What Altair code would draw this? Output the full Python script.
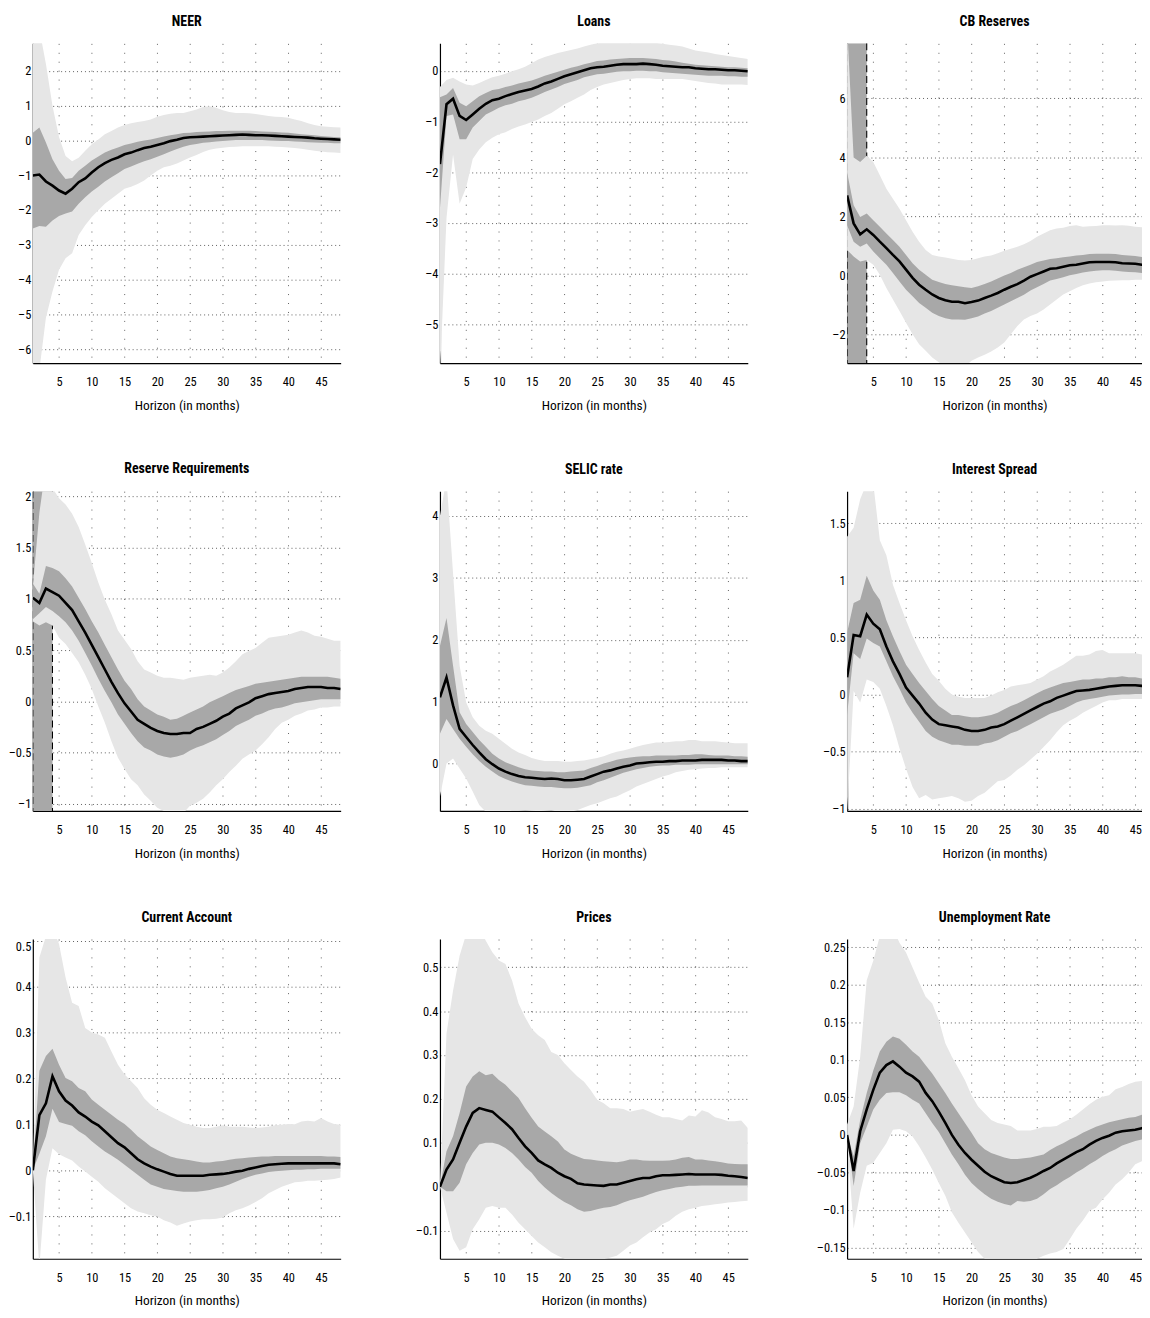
import altair as alt
import pandas as pd

H = list(range(1, 49))

# ---------------- NEER ----------------
NEER_MID = [-1.01, -0.98, -1.18, -1.30, -1.44, -1.53, -1.39, -1.20, -1.09, -0.92, -0.77, -0.65, -0.56, -0.49, -0.40, -0.35,
            -0.28, -0.22, -0.18, -0.13, -0.08, -0.02, 0.02, 0.07, 0.09, 0.10, 0.11, 0.12, 0.13, 0.14, 0.15, 0.16,
            0.17, 0.16, 0.15, 0.15, 0.14, 0.13, 0.12, 0.11, 0.10, 0.09, 0.08, 0.06, 0.05, 0.04, 0.03, 0.02]
NEER_IN_HI = [0.22, 0.37, -0.06, -0.54, -0.87, -1.11, -1.08, -0.87, -0.73, -0.58, -0.46, -0.35, -0.27, -0.20, -0.13, -0.09,
              -0.04, 0.0, 0.03, 0.07, 0.11, 0.15, 0.18, 0.21, 0.22, 0.24, 0.25, 0.26, 0.27, 0.27, 0.28, 0.28,
              0.28, 0.28, 0.27, 0.26, 0.25, 0.24, 0.23, 0.22, 0.20, 0.18, 0.16, 0.15, 0.13, 0.11, 0.10, 0.09]
NEER_IN_LO = [-2.53, -2.46, -2.48, -2.30, -2.17, -2.10, -2.04, -1.82, -1.63, -1.47, -1.33, -1.18, -1.06, -0.94, -0.82, -0.75,
              -0.67, -0.60, -0.54, -0.47, -0.40, -0.32, -0.25, -0.18, -0.13, -0.10, -0.07, -0.05, -0.03, -0.02, 0.0, 0.01,
              0.01, 0.01, 0.01, 0.01, 0.0, -0.01, -0.02, -0.02, -0.03, -0.04, -0.05, -0.06, -0.07, -0.07, -0.08, -0.08]
NEER_OUT_HI = [4.0, 3.2, 2.2, 1.0, 0.1, -0.45, -0.60, -0.50, -0.30, -0.11, 0.03, 0.18, 0.27, 0.37, 0.44, 0.49,
               0.53, 0.56, 0.60, 0.68, 0.73, 0.77, 0.79, 0.79, 0.84, 0.89, 0.96, 0.98, 0.94, 0.87, 0.82, 0.79,
               0.79, 0.78, 0.76, 0.73, 0.70, 0.68, 0.67, 0.65, 0.60, 0.56, 0.49, 0.44, 0.41, 0.39, 0.38, 0.37]
NEER_OUT_LO = [-7.0, -6.6, -5.1, -4.34, -3.72, -3.39, -3.24, -2.72, -2.44, -2.20, -2.01, -1.82, -1.68, -1.53, -1.39, -1.33,
               -1.25, -1.15, -1.01, -0.87, -0.77, -0.73, -0.66, -0.58, -0.49, -0.42, -0.33, -0.27, -0.23, -0.21, -0.19, -0.18,
               -0.17, -0.17, -0.17, -0.17, -0.17, -0.18, -0.19, -0.20, -0.22, -0.24, -0.27, -0.30, -0.32, -0.34, -0.35, -0.36]

# ---------------- Loans ----------------
LOANS_MID = [-1.84, -0.66, -0.55, -0.89, -0.97, -0.86, -0.75, -0.65, -0.58, -0.55, -0.50, -0.46, -0.42, -0.39, -0.36, -0.31,
             -0.25, -0.21, -0.16, -0.11, -0.07, -0.03, 0.01, 0.05, 0.07, 0.08, 0.10, 0.12, 0.13, 0.13, 0.13, 0.14,
             0.13, 0.12, 0.10, 0.09, 0.08, 0.07, 0.07, 0.05, 0.04, 0.03, 0.03, 0.02, 0.01, 0.01, 0.0, -0.01]
LOANS_IN_HI = [-0.52, -0.47, -0.34, -0.63, -0.70, -0.60, -0.50, -0.44, -0.38, -0.36, -0.32, -0.29, -0.25, -0.22, -0.19, -0.15,
               -0.10, -0.06, -0.02, 0.02, 0.06, 0.09, 0.13, 0.16, 0.19, 0.20, 0.22, 0.23, 0.24, 0.25, 0.25, 0.25,
               0.24, 0.23, 0.21, 0.20, 0.18, 0.16, 0.14, 0.12, 0.11, 0.10, 0.09, 0.08, 0.07, 0.07, 0.06, 0.05]
LOANS_IN_LO = [-2.72, -0.89, -0.86, -1.35, -1.35, -1.12, -0.99, -0.86, -0.80, -0.73, -0.68, -0.65, -0.60, -0.57, -0.53, -0.48,
               -0.42, -0.37, -0.32, -0.26, -0.22, -0.18, -0.13, -0.10, -0.07, -0.06, -0.04, -0.02, -0.01, -0.01, 0.0, 0.0,
               -0.01, -0.01, -0.03, -0.04, -0.05, -0.06, -0.07, -0.08, -0.09, -0.10, -0.10, -0.10, -0.11, -0.11, -0.12, -0.12]
LOANS_OUT_HI = [-0.32, -0.18, -0.14, -0.21, -0.27, -0.29, -0.24, -0.18, -0.13, -0.10, -0.06, -0.01, 0.03, 0.08, 0.15, 0.22,
                0.27, 0.31, 0.35, 0.38, 0.41, 0.44, 0.48, 0.51, 0.54, 0.56, 0.57, 0.57, 0.57, 0.57, 0.57, 0.56,
                0.56, 0.55, 0.53, 0.51, 0.50, 0.48, 0.44, 0.40, 0.38, 0.36, 0.33, 0.31, 0.29, 0.27, 0.25, 0.23]
LOANS_OUT_LO = [-6.0, -2.9, -1.65, -2.62, -2.30, -1.74, -1.55, -1.41, -1.32, -1.25, -1.21, -1.15, -1.10, -1.06, -1.01, -0.96,
                -0.89, -0.83, -0.75, -0.66, -0.60, -0.53, -0.47, -0.38, -0.32, -0.27, -0.24, -0.21, -0.18, -0.16, -0.15, -0.15,
                -0.15, -0.16, -0.16, -0.16, -0.16, -0.16, -0.18, -0.20, -0.22, -0.24, -0.25, -0.27, -0.27, -0.27, -0.27, -0.28]

# ---------------- CB Reserves ----------------
CBR_MID = [2.71, 1.76, 1.39, 1.56, 1.37, 1.14, 0.92, 0.69, 0.47, 0.19, -0.09, -0.32, -0.49, -0.65, -0.77, -0.85,
           -0.90, -0.90, -0.95, -0.91, -0.86, -0.77, -0.69, -0.60, -0.49, -0.39, -0.30, -0.18, -0.05, 0.04, 0.13, 0.22,
           0.24, 0.29, 0.34, 0.36, 0.40, 0.44, 0.45, 0.45, 0.45, 0.44, 0.41, 0.40, 0.39, 0.36, 0.34, 0.33]
CBR_IN_HI = [3.50, 2.38, 1.98, 2.10, 1.87, 1.65, 1.42, 1.20, 0.97, 0.69, 0.41, 0.19, 0.02, -0.15, -0.23, -0.30,
             -0.34, -0.37, -0.41, -0.43, -0.37, -0.30, -0.21, -0.11, -0.01, 0.08, 0.19, 0.27, 0.36, 0.45, 0.50, 0.55,
             0.58, 0.61, 0.64, 0.67, 0.69, 0.72, 0.73, 0.73, 0.73, 0.72, 0.69, 0.67, 0.65, 0.62, 0.60, 0.59]
CBR_IN_LO = [1.70, 1.14, 0.97, 1.08, 0.81, 0.58, 0.36, 0.08, -0.21, -0.49, -0.71, -0.94, -1.10, -1.27, -1.38, -1.46,
             -1.50, -1.50, -1.51, -1.46, -1.40, -1.30, -1.21, -1.10, -0.99, -0.88, -0.77, -0.66, -0.52, -0.41, -0.30, -0.18,
             -0.13, -0.07, 0.0, 0.04, 0.09, 0.13, 0.15, 0.17, 0.17, 0.15, 0.13, 0.11, 0.10, 0.08, 0.05, 0.04]
CBR_OUT_HI = [8.5, 4.0, 3.84, 4.06, 3.84, 3.39, 2.94, 2.60, 2.26, 1.87, 1.48, 1.14, 0.86, 0.69, 0.64, 0.60,
              0.56, 0.52, 0.50, 0.52, 0.58, 0.64, 0.67, 0.75, 0.83, 0.90, 0.97, 1.05, 1.16, 1.31, 1.42, 1.53,
              1.59, 1.61, 1.67, 1.70, 1.65, 1.66, 1.67, 1.70, 1.70, 1.69, 1.70, 1.68, 1.65, 1.63, 1.61, 1.59]
CBR_OUT_LO = [0.86, 0.64, 0.47, 0.52, 0.36, 0.02, -0.43, -0.82, -1.21, -1.61, -2.00, -2.34, -2.56, -2.79, -2.95, -3.10,
              -3.15, -3.15, -3.10, -2.90, -2.79, -2.70, -2.59, -2.45, -2.28, -2.00, -1.72, -1.50, -1.38, -1.30, -1.16, -0.99,
              -0.82, -0.65, -0.54, -0.43, -0.34, -0.28, -0.24, -0.21, -0.19, -0.18, -0.17, -0.17, -0.15, -0.15, -0.15, -0.15]

# ---------------- Reserve Requirements ----------------
RR_MID = [1.01, 0.96, 1.10, 1.065, 1.03, 0.96, 0.89, 0.78, 0.67, 0.55, 0.43, 0.31, 0.19, 0.08, -0.02, -0.10,
          -0.18, -0.22, -0.26, -0.29, -0.31, -0.32, -0.32, -0.31, -0.31, -0.27, -0.25, -0.22, -0.19, -0.15, -0.12, -0.07,
          -0.04, -0.01, 0.03, 0.05, 0.07, 0.08, 0.09, 0.10, 0.12, 0.13, 0.14, 0.14, 0.14, 0.13, 0.13, 0.12]
RR_IN_HI = [1.15, 1.05, 1.32, 1.30, 1.27, 1.20, 1.12, 1.01, 0.90, 0.78, 0.67, 0.55, 0.43, 0.31, 0.20, 0.12,
            0.02, -0.05, -0.09, -0.13, -0.15, -0.18, -0.17, -0.14, -0.11, -0.08, -0.05, -0.01, 0.02, 0.05, 0.08, 0.11,
            0.13, 0.15, 0.17, 0.18, 0.19, 0.20, 0.21, 0.22, 0.23, 0.24, 0.24, 0.24, 0.24, 0.24, 0.23, 0.22]
RR_IN_LO = [0.80, 0.86, 0.92, 0.88, 0.83, 0.77, 0.69, 0.59, 0.47, 0.35, 0.22, 0.10, -0.01, -0.13, -0.22, -0.31,
            -0.39, -0.45, -0.48, -0.52, -0.54, -0.55, -0.54, -0.52, -0.48, -0.45, -0.43, -0.40, -0.37, -0.33, -0.29, -0.24,
            -0.21, -0.18, -0.14, -0.12, -0.09, -0.07, -0.06, -0.04, -0.02, -0.01, 0.0, 0.01, 0.02, 0.02, 0.02, 0.02]
RR_OUT_HI = [1.12, 1.84, 2.30, 2.08, 1.98, 1.92, 1.83, 1.70, 1.53, 1.35, 1.16, 0.99, 0.85, 0.69, 0.60, 0.51,
             0.39, 0.31, 0.28, 0.25, 0.23, 0.23, 0.22, 0.21, 0.23, 0.24, 0.25, 0.26, 0.25, 0.28, 0.33, 0.39,
             0.46, 0.49, 0.52, 0.57, 0.62, 0.63, 0.64, 0.65, 0.67, 0.69, 0.67, 0.64, 0.63, 0.61, 0.59, 0.59]
RR_OUT_LO = [0.78, 0.74, 0.77, 0.74, 0.62, 0.56, 0.47, 0.38, 0.26, 0.12, -0.05, -0.21, -0.39, -0.55, -0.66, -0.76,
             -0.82, -0.91, -0.97, -1.04, -1.07, -1.09, -1.09, -1.09, -1.02, -0.99, -0.95, -0.89, -0.82, -0.76, -0.69, -0.63,
             -0.56, -0.52, -0.48, -0.42, -0.35, -0.27, -0.21, -0.18, -0.14, -0.12, -0.09, -0.08, -0.06, -0.06, -0.05, -0.05]

# ---------------- SELIC rate ----------------
SELIC_MID = [1.07, 1.39, 0.94, 0.56, 0.43, 0.30, 0.18, 0.07, -0.01, -0.08, -0.13, -0.17, -0.20, -0.22, -0.23, -0.24,
             -0.25, -0.24, -0.25, -0.27, -0.27, -0.26, -0.25, -0.21, -0.17, -0.13, -0.11, -0.08, -0.05, -0.03, 0.0, 0.01,
             0.02, 0.03, 0.03, 0.04, 0.04, 0.05, 0.05, 0.05, 0.06, 0.06, 0.06, 0.06, 0.05, 0.05, 0.04, 0.04]
SELIC_IN_HI = [1.90, 2.35, 1.58, 0.83, 0.64, 0.51, 0.38, 0.27, 0.16, 0.08, 0.02, -0.02, -0.06, -0.09, -0.11, -0.12,
               -0.13, -0.13, -0.14, -0.14, -0.13, -0.12, -0.11, -0.07, -0.04, 0.0, 0.03, 0.06, 0.08, 0.10, 0.11, 0.12,
               0.12, 0.13, 0.13, 0.13, 0.13, 0.14, 0.14, 0.15, 0.15, 0.14, 0.13, 0.13, 0.13, 0.12, 0.12, 0.11]
SELIC_IN_LO = [0.48, 0.72, 0.56, 0.40, 0.27, 0.15, 0.04, -0.05, -0.13, -0.20, -0.25, -0.29, -0.32, -0.35, -0.36, -0.37,
               -0.38, -0.38, -0.39, -0.40, -0.40, -0.39, -0.37, -0.35, -0.30, -0.27, -0.23, -0.19, -0.15, -0.12, -0.09, -0.07,
               -0.05, -0.04, -0.03, -0.03, -0.02, -0.02, -0.02, -0.01, -0.01, -0.01, -0.01, -0.01, -0.01, -0.01, -0.01, -0.01]
SELIC_OUT_HI = [4.0, 4.6, 3.07, 1.58, 0.99, 0.75, 0.61, 0.53, 0.48, 0.40, 0.32, 0.24, 0.18, 0.14, 0.09, 0.06,
                0.04, 0.04, 0.04, 0.03, 0.03, 0.04, 0.05, 0.07, 0.09, 0.12, 0.16, 0.19, 0.21, 0.24, 0.27, 0.30,
                0.32, 0.34, 0.34, 0.35, 0.36, 0.36, 0.38, 0.38, 0.36, 0.36, 0.36, 0.35, 0.34, 0.33, 0.33, 0.33]
SELIC_OUT_LO = [-0.53, 0.0, 0.08, -0.08, -0.24, -0.45, -0.67, -0.78, -0.80, -0.80, -0.78, -0.76, -0.76, -0.75, -0.76, -0.77,
                -0.76, -0.75, -0.78, -0.80, -0.78, -0.75, -0.71, -0.67, -0.64, -0.60, -0.56, -0.53, -0.48, -0.43, -0.37, -0.33,
                -0.29, -0.25, -0.21, -0.18, -0.14, -0.12, -0.10, -0.09, -0.08, -0.07, -0.07, -0.06, -0.06, -0.06, -0.06, -0.06]

# ---------------- Interest Spread ----------------
IS_MID = [0.15, 0.52, 0.51, 0.70, 0.62, 0.57, 0.42, 0.29, 0.18, 0.06, -0.01, -0.08, -0.16, -0.22, -0.26, -0.27,
          -0.28, -0.29, -0.31, -0.32, -0.32, -0.31, -0.29, -0.28, -0.26, -0.23, -0.20, -0.17, -0.14, -0.11, -0.08, -0.06,
          -0.03, -0.01, 0.01, 0.03, 0.035, 0.04, 0.05, 0.06, 0.07, 0.075, 0.08, 0.08, 0.08, 0.075, 0.07, 0.07]
IS_IN_HI = [0.54, 0.80, 0.83, 1.04, 0.91, 0.83, 0.65, 0.51, 0.38, 0.26, 0.18, 0.10, 0.03, -0.04, -0.10, -0.14,
            -0.18, -0.18, -0.19, -0.20, -0.20, -0.19, -0.18, -0.16, -0.13, -0.10, -0.08, -0.05, -0.02, 0.01, 0.04, 0.06,
            0.08, 0.10, 0.11, 0.12, 0.13, 0.13, 0.14, 0.14, 0.15, 0.15, 0.16, 0.15, 0.15, 0.14, 0.14, 0.13]
IS_IN_LO = [-0.18, 0.36, 0.31, 0.49, 0.45, 0.42, 0.29, 0.16, 0.05, -0.07, -0.16, -0.24, -0.32, -0.37, -0.40, -0.42,
            -0.44, -0.44, -0.45, -0.45, -0.45, -0.43, -0.42, -0.40, -0.37, -0.34, -0.32, -0.29, -0.26, -0.23, -0.20, -0.17,
            -0.15, -0.13, -0.10, -0.07, -0.05, -0.04, -0.03, -0.02, -0.01, -0.005, 0.0, 0.0, 0.005, 0.005, 0.005, 0.0]
IS_OUT_HI = [1.38, 1.46, 1.71, 1.85, 1.85, 1.35, 1.22, 0.96, 0.80, 0.65, 0.51, 0.39, 0.28, 0.18, 0.12, 0.05,
             0.0, -0.02, -0.03, -0.03, -0.03, -0.03, -0.01, 0.02, 0.04, 0.07, 0.08, 0.09, 0.10, 0.13, 0.16, 0.20,
             0.23, 0.26, 0.30, 0.34, 0.34, 0.35, 0.38, 0.39, 0.36, 0.36, 0.36, 0.36, 0.36, 0.35, 0.35, 0.35]
IS_OUT_LO = [-1.05, 0.03, -0.07, 0.13, 0.11, 0.05, -0.10, -0.27, -0.47, -0.65, -0.81, -0.91, -0.88, -0.92, -0.91, -0.90,
             -0.89, -0.91, -0.94, -0.93, -0.89, -0.86, -0.81, -0.76, -0.75, -0.71, -0.66, -0.62, -0.57, -0.52, -0.46, -0.40,
             -0.33, -0.27, -0.23, -0.20, -0.16, -0.13, -0.10, -0.07, -0.05, -0.05, -0.04, -0.04, -0.04, -0.04, -0.03, -0.03]

# ---------------- Current Account ----------------
CA_MID = [0.0, 0.12, 0.146, 0.205, 0.172, 0.152, 0.141, 0.126, 0.117, 0.106, 0.098, 0.085, 0.072, 0.059, 0.050, 0.037,
          0.024, 0.015, 0.008, 0.002, -0.003, -0.008, -0.012, -0.012, -0.012, -0.012, -0.012, -0.010, -0.009, -0.008, -0.006, -0.003,
          -0.001, 0.003, 0.006, 0.009, 0.012, 0.013, 0.014, 0.015, 0.015, 0.015, 0.015, 0.015, 0.015, 0.015, 0.015, 0.013]
CA_IN_HI = [0.0, 0.217, 0.249, 0.265, 0.230, 0.201, 0.194, 0.179, 0.172, 0.154, 0.143, 0.132, 0.121, 0.110, 0.101, 0.088,
            0.074, 0.063, 0.052, 0.044, 0.037, 0.030, 0.026, 0.024, 0.022, 0.019, 0.017, 0.017, 0.019, 0.020, 0.023, 0.025,
            0.026, 0.028, 0.029, 0.030, 0.030, 0.031, 0.031, 0.031, 0.031, 0.031, 0.031, 0.031, 0.031, 0.030, 0.030, 0.029]
CA_IN_LO = [0.0, 0.036, 0.074, 0.134, 0.105, 0.101, 0.097, 0.085, 0.076, 0.063, 0.052, 0.041, 0.032, 0.023, 0.012, 0.001,
            -0.010, -0.021, -0.031, -0.036, -0.041, -0.043, -0.045, -0.047, -0.047, -0.047, -0.045, -0.043, -0.039, -0.036, -0.031, -0.025,
            -0.019, -0.014, -0.010, -0.007, -0.004, -0.002, -0.001, 0.0, 0.001, 0.001, 0.002, 0.002, 0.003, 0.003, 0.003, 0.003]
CA_OUT_HI = [0.0, 0.464, 0.51, 0.53, 0.493, 0.42, 0.365, 0.358, 0.31, 0.30, 0.296, 0.289, 0.259, 0.230, 0.209, 0.194,
             0.179, 0.157, 0.143, 0.132, 0.125, 0.117, 0.110, 0.103, 0.099, 0.095, 0.092, 0.092, 0.095, 0.098, 0.095, 0.095,
             0.095, 0.093, 0.092, 0.093, 0.095, 0.098, 0.099, 0.101, 0.100, 0.106, 0.108, 0.106, 0.114, 0.106, 0.101, 0.099]
CA_OUT_LO = [0.0, -0.21, -0.02, 0.048, 0.035, 0.028, 0.021, 0.008, -0.003, -0.014, -0.025, -0.039, -0.050, -0.061, -0.072, -0.083,
             -0.090, -0.094, -0.098, -0.101, -0.109, -0.114, -0.121, -0.116, -0.112, -0.109, -0.107, -0.107, -0.106, -0.103, -0.094, -0.087,
             -0.083, -0.077, -0.069, -0.061, -0.050, -0.043, -0.036, -0.031, -0.026, -0.025, -0.023, -0.023, -0.022, -0.021, -0.019, -0.016]

# ---------------- Prices ----------------
PR_MID = [0.0, 0.039, 0.062, 0.100, 0.137, 0.168, 0.179, 0.175, 0.171, 0.158, 0.145, 0.131, 0.111, 0.092, 0.077, 0.060,
          0.051, 0.043, 0.032, 0.024, 0.018, 0.008, 0.005, 0.004, 0.003, 0.002, 0.005, 0.005, 0.009, 0.013, 0.017, 0.020,
          0.020, 0.024, 0.026, 0.026, 0.027, 0.028, 0.029, 0.028, 0.028, 0.028, 0.028, 0.027, 0.025, 0.024, 0.022, 0.020]
PR_IN_HI = [0.0, 0.081, 0.115, 0.168, 0.228, 0.251, 0.263, 0.254, 0.257, 0.243, 0.232, 0.217, 0.202, 0.179, 0.157, 0.137,
            0.126, 0.115, 0.103, 0.085, 0.075, 0.069, 0.063, 0.062, 0.060, 0.058, 0.057, 0.056, 0.058, 0.062, 0.062, 0.060,
            0.059, 0.059, 0.059, 0.060, 0.062, 0.066, 0.068, 0.062, 0.062, 0.060, 0.058, 0.056, 0.053, 0.052, 0.051, 0.051]
PR_IN_LO = [0.0, -0.010, -0.010, 0.009, 0.051, 0.077, 0.096, 0.100, 0.100, 0.096, 0.088, 0.077, 0.062, 0.045, 0.032, 0.013,
            -0.002, -0.014, -0.025, -0.035, -0.042, -0.051, -0.057, -0.055, -0.051, -0.048, -0.046, -0.042, -0.036, -0.031, -0.027, -0.023,
            -0.017, -0.012, -0.008, -0.005, -0.002, 0.0, 0.002, 0.002, 0.003, 0.003, 0.003, 0.003, 0.003, 0.003, 0.003, 0.003]
PR_OUT_HI = [0.0, 0.349, 0.447, 0.526, 0.575, 0.59, 0.59, 0.56, 0.534, 0.515, 0.507, 0.470, 0.417, 0.386, 0.360, 0.345,
             0.334, 0.307, 0.300, 0.281, 0.266, 0.251, 0.239, 0.220, 0.198, 0.190, 0.179, 0.179, 0.177, 0.171, 0.174, 0.177,
             0.171, 0.164, 0.158, 0.158, 0.154, 0.151, 0.162, 0.160, 0.174, 0.169, 0.158, 0.154, 0.149, 0.149, 0.151, 0.134]
PR_OUT_LO = [0.0, -0.059, -0.119, -0.146, -0.138, -0.097, -0.074, -0.048, -0.044, -0.048, -0.048, -0.063, -0.082, -0.097, -0.112, -0.127,
             -0.138, -0.149, -0.157, -0.164, -0.17, -0.17, -0.17, -0.17, -0.17, -0.165, -0.161, -0.157, -0.146, -0.134, -0.127, -0.115,
             -0.104, -0.097, -0.085, -0.078, -0.066, -0.057, -0.051, -0.048, -0.044, -0.042, -0.040, -0.038, -0.036, -0.035, -0.033, -0.032]

# ---------------- Unemployment Rate ----------------
UR_MID = [0.0, -0.048, 0.005, 0.034, 0.060, 0.083, 0.093, 0.098, 0.091, 0.083, 0.078, 0.071, 0.056, 0.045, 0.031, 0.016,
          0.0, -0.013, -0.024, -0.033, -0.041, -0.049, -0.055, -0.059, -0.063, -0.064, -0.063, -0.060, -0.057, -0.053, -0.048, -0.044,
          -0.038, -0.033, -0.028, -0.023, -0.019, -0.013, -0.008, -0.004, -0.001, 0.003, 0.005, 0.006, 0.007, 0.009, 0.011, 0.014]
UR_IN_HI = [0.0, -0.028, 0.020, 0.056, 0.086, 0.111, 0.124, 0.131, 0.128, 0.120, 0.111, 0.104, 0.093, 0.082, 0.069, 0.056,
            0.042, 0.029, 0.016, 0.003, -0.011, -0.019, -0.024, -0.027, -0.030, -0.032, -0.032, -0.031, -0.030, -0.028, -0.026, -0.020,
            -0.015, -0.011, -0.006, -0.002, 0.003, 0.007, 0.011, 0.014, 0.017, 0.019, 0.021, 0.023, 0.024, 0.027, 0.030, 0.031]
UR_IN_LO = [0.0, -0.068, -0.011, 0.011, 0.034, 0.047, 0.056, 0.057, 0.057, 0.053, 0.047, 0.042, 0.029, 0.016, 0.004, -0.011,
            -0.026, -0.039, -0.053, -0.064, -0.072, -0.079, -0.085, -0.089, -0.092, -0.094, -0.088, -0.089, -0.088, -0.085, -0.079, -0.072,
            -0.067, -0.061, -0.056, -0.050, -0.045, -0.039, -0.034, -0.028, -0.023, -0.019, -0.014, -0.011, -0.008, -0.006, -0.004, -0.002]
UR_OUT_HI = [0.014, 0.038, 0.104, 0.206, 0.232, 0.265, 0.275, 0.275, 0.256, 0.243, 0.223, 0.203, 0.184, 0.175, 0.153, 0.122,
             0.104, 0.089, 0.073, 0.053, 0.038, 0.029, 0.020, 0.016, 0.014, 0.012, 0.006, 0.006, 0.006, 0.008, 0.011, 0.011,
             0.012, 0.017, 0.021, 0.027, 0.034, 0.041, 0.047, 0.051, 0.053, 0.061, 0.064, 0.068, 0.071, 0.072, 0.072, 0.072]
UR_OUT_LO = [-0.006, -0.125, -0.077, -0.041, -0.037, -0.024, -0.011, 0.007, 0.008, 0.005, -0.002, -0.015, -0.030, -0.046, -0.064, -0.081,
             -0.103, -0.117, -0.130, -0.143, -0.156, -0.165, -0.175, -0.175, -0.175, -0.175, -0.175, -0.175, -0.175, -0.165, -0.161, -0.158,
             -0.156, -0.152, -0.139, -0.125, -0.114, -0.101, -0.097, -0.086, -0.077, -0.066, -0.059, -0.050, -0.039, -0.035, -0.030, -0.028]

TITLES = ["NEER", "Loans", "CB Reserves",
          "Reserve Requirements", "SELIC rate", "Interest Spread",
          "Current Account", "Prices", "Unemployment Rate"]
SERIES = [
    (NEER_MID, NEER_IN_LO, NEER_IN_HI, NEER_OUT_LO, NEER_OUT_HI),
    (LOANS_MID, LOANS_IN_LO, LOANS_IN_HI, LOANS_OUT_LO, LOANS_OUT_HI),
    (CBR_MID, CBR_IN_LO, CBR_IN_HI, CBR_OUT_LO, CBR_OUT_HI),
    (RR_MID, RR_IN_LO, RR_IN_HI, RR_OUT_LO, RR_OUT_HI),
    (SELIC_MID, SELIC_IN_LO, SELIC_IN_HI, SELIC_OUT_LO, SELIC_OUT_HI),
    (IS_MID, IS_IN_LO, IS_IN_HI, IS_OUT_LO, IS_OUT_HI),
    (CA_MID, CA_IN_LO, CA_IN_HI, CA_OUT_LO, CA_OUT_HI),
    (PR_MID, PR_IN_LO, PR_IN_HI, PR_OUT_LO, PR_OUT_HI),
    (UR_MID, UR_IN_LO, UR_IN_HI, UR_OUT_LO, UR_OUT_HI),
]
Y_DOMAINS = [[-6.4, 2.79], [-5.76, 0.54], [-2.98, 7.87],
             [-1.07, 2.05], [-0.765, 4.4], [-1.02, 1.78],
             [-0.193, 0.504], [-0.164, 0.564], [-0.165, 0.261]]
Y_TICKS = [[-6, -5, -4, -3, -2, -1, 0, 1, 2], [-5, -4, -3, -2, -1, 0], [-2, 0, 2, 4, 6],
           [-1, -0.5, 0, 0.5, 1, 1.5, 2], [0, 1, 2, 3, 4], [-1, -0.5, 0, 0.5, 1, 1.5],
           [-0.1, 0, 0.1, 0.2, 0.3, 0.4, 0.5], [-0.1, 0, 0.1, 0.2, 0.3, 0.4, 0.5],
           [-0.15, -0.1, -0.05, 0, 0.05, 0.1, 0.15, 0.2, 0.25]]
X_TICKS = [5, 10, 15, 20, 25, 30, 35, 40, 45]
X_TITLE = "Horizon (in months)"
SHADED = {"CB Reserves": [1, 4], "Reserve Requirements": [1, 4]}
FLUSH_TOP_LABEL = {"Current Account"}

for s in SERIES:
    for arr in s:
        assert len(arr) == 48, len(arr)

FONT = "Roboto Condensed, Liberation Sans Narrow, DejaVu Sans Condensed, sans-serif"
LIGHT = "#e6e6e6"
DARK = "#a8a8a8"
PW, PH = 310, 322
PW3 = 297
PX_PER_UNIT = PW / 47.0
LABEL_EXPR = "replace(replace(format(datum.value, '.2~f'), '\u2212', '\u2013'), '-', '\u2013')"


def panel(idx):
    title = TITLES[idx]
    mid, ilo, ihi, olo, ohi = SERIES[idx]
    col = idx % 3
    if col < 2:
        w, xmax = PW, 48
    else:
        w = PW3
        xmax = 1 + w / PX_PER_UNIT
    df = pd.DataFrame({"h": H, "mid": mid, "ilo": ilo, "ihi": ihi, "olo": olo, "ohi": ohi})
    xscale = alt.Scale(domain=[1, xmax], nice=False, zero=False)
    yscale = alt.Scale(domain=Y_DOMAINS[idx], nice=False, zero=False)
    xaxis = alt.Axis(values=X_TICKS, title=X_TITLE, grid=True, gridDash=[1, 8])
    yaxis_kw = dict(values=Y_TICKS[idx], title=None, labelExpr=LABEL_EXPR, grid=True, gridDash=[1, 3])
    if title in FLUSH_TOP_LABEL:
        yaxis_kw["labelFlush"] = 4
    else:
        yaxis_kw["labelFlush"] = False
    yaxis = alt.Axis(**yaxis_kw)

    def X(field="h"):
        return alt.X(f"{field}:Q", scale=xscale, axis=xaxis)

    def Y(field):
        return alt.Y(f"{field}:Q", scale=yscale, axis=yaxis)

    base = alt.Chart(df)
    layers = []
    if title in SHADED:
        x0, x1 = SHADED[title]
        sdf = pd.DataFrame({"h": [x0], "h2": [x1]})
        layers.append(alt.Chart(sdf).mark_rect(color=DARK, clip=True).encode(
            x=X(), x2="h2:Q", y=alt.value(0), y2=alt.value(PH)))
        rdf = pd.DataFrame({"h": [x0, x1]})
        layers.append(alt.Chart(rdf).mark_rule(color="black", strokeWidth=1.1,
                                               strokeDash=[7, 4], clip=True).encode(x=X()))
    layers.append(base.mark_area(color=LIGHT, clip=True, opacity=1).encode(x=X(), y=Y("olo"), y2="ohi:Q"))
    layers.append(base.mark_area(color=DARK, clip=True, opacity=1).encode(x=X(), y=Y("ilo"), y2="ihi:Q"))
    layers.append(base.mark_line(color="black", strokeWidth=2.6, clip=True).encode(x=X(), y=Y("mid")))
    return alt.layer(*layers).properties(
        width=w, height=PH,
        title=alt.TitleParams(title, fontSize=14, fontWeight="bold", font=FONT, offset=14,
                              anchor="middle", color="black"))


chart = alt.concat(*[panel(i) for i in range(9)], columns=3,
                   spacing={"row": 129, "column": 100}, bounds="flush").properties(
    padding={"left": 0, "top": 3, "right": 0, "bottom": 0}
).configure_view(stroke=None).configure_axis(
    labelFont=FONT, labelFontSize=12.5, labelColor="black",
    titleFont=FONT, titleFontSize=13.5, titleFontWeight="normal", titleColor="black",
    domainColor="black", domainWidth=1.2, ticks=False,
    gridColor="black", gridWidth=0.9, gridOpacity=0.7,
).configure_axisX(labelPadding=13, titlePadding=10).configure_axisY(labelPadding=2)

chart.save("out.html", embed_options={"renderer": "svg", "actions": False})
